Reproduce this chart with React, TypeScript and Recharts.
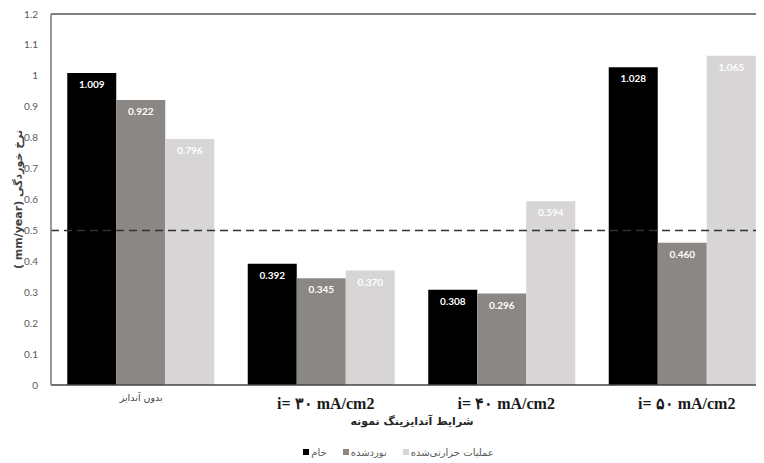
import React from 'react';
import { BarChart, Bar, XAxis, YAxis, ReferenceLine, LabelList, Legend } from 'recharts';

const categories = ['بدون آندایز', 'i= ۳۰ mA/cm2', 'i= ۴۰  mA/cm2', 'i= ۵۰ mA/cm2'];
const rawValues = [1.009, 0.392, 0.308, 1.028];
const rolledValues = [0.922, 0.345, 0.296, 0.46];
const heatValues = [0.796, 0.37, 0.594, 1.065];
const seriesNames = ['خام', 'نوردشده', 'عملیات حرارتی‌شده'];
const seriesColors = ['#000000', '#8b8785', '#d7d5d5'];
const yTicks = [0, 0.1, 0.2, 0.3, 0.4, 0.5, 0.6, 0.7, 0.8, 0.9, 1, 1.1, 1.2];
const thresholdValue = 0.5;
const yLabel = '( mm/year) نرخ خوردگی';
const xLabel = 'شرایط آندایزینگ نمونه';

const data = categories.map((c, i) => ({
  name: c,
  raw: rawValues[i],
  rolled: rolledValues[i],
  heat: heatValues[i],
}));
const keys = ['raw', 'rolled', 'heat'];

const persianFont = '"DejaVu Sans", sans-serif';
const numFont = 'Lato, "Open Sans", sans-serif';

const XTick = (props: any) => {
  const { x, y, payload, index } = props;
  if (index === 0) {
    return (
      <text x={x} y={y + 16} textAnchor="middle" fontSize={9.5} fill="#404040" fontFamily={persianFont}>
        {payload.value}
      </text>
    );
  }
  return (
    <text x={x + 4} y={y + 24} textAnchor="middle" fontSize={16} fontWeight="bold" fill="#1a1a1a" fontFamily='"Liberation Serif", serif'>
      {payload.value}
    </text>
  );
};

const LegendContent = () => (
  <div style={{ display: 'flex', justifyContent: 'center', gap: 16, height: 16, alignItems: 'center', fontFamily: persianFont, fontSize: 10, color: '#595959', paddingLeft: 16 }}>
    {seriesNames.map((n, i) => (
      <div key={n} style={{ display: 'flex', alignItems: 'center', gap: 2 }}>
        <span style={{ width: 6, height: 6, background: seriesColors[i], display: 'inline-block' }} />
        <span>{n}</span>
      </div>
    ))}
  </div>
);

export default function App() {
  return (
    <div style={{ width: 756, height: 455, overflow: 'hidden', position: 'relative' }}>
      <BarChart
        width={780}
        height={455}
        data={data}
        margin={{ top: 6, right: 15, left: 0, bottom: 3 }}
        barCategoryGap="9%"
        barGap={0}
      >
        <XAxis
          dataKey="name"
          tick={<XTick />}
          tickLine={false}
          tickSize={0}
          tickMargin={0}
          interval={0}
          height={59}
          axisLine={{ stroke: '#444', strokeWidth: 1.5 }}
          label={{ value: xLabel, position: 'insideBottom', offset: 19, fontSize: 11, fontWeight: 'bold', fill: '#262626', fontFamily: persianFont }}
        />
        <YAxis
          domain={[0, 1.2]}
          ticks={yTicks}
          width={43}
          tickLine={false}
          tickSize={0}
          tickMargin={13}
          interval={0}
          axisLine={{ stroke: '#777', strokeWidth: 1.5 }}
          tick={{ fontSize: 10, fill: '#595959', fontFamily: numFont }}
          label={{ value: yLabel, angle: -90, position: 'insideLeft', offset: 10, fontSize: 11, fontWeight: 'bold', fill: '#404040', fontFamily: persianFont, style: { textAnchor: 'middle' } }}
        />
        {keys.map((k, i) => (
          <Bar key={k} dataKey={k} name={seriesNames[i]} fill={seriesColors[i]} isAnimationActive={false}>
            <LabelList
              dataKey={k}
              position="insideTop"
              offset={8}
              formatter={(v: any) => Number(v).toFixed(3)}
              fill="#ffffff"
              fontSize={10}
              fontWeight="bold"
              fontFamily={numFont}
            />
          </Bar>
        ))}
        <ReferenceLine y={yTicks[yTicks.length - 1]} stroke="#555" strokeWidth={1.5} />
        <ReferenceLine y={thresholdValue} stroke="#333" strokeWidth={1.5} strokeDasharray="8 5" />
        <Legend verticalAlign="bottom" content={<LegendContent />} wrapperStyle={{ height: 16 }} />
      </BarChart>
    </div>
  );
}
